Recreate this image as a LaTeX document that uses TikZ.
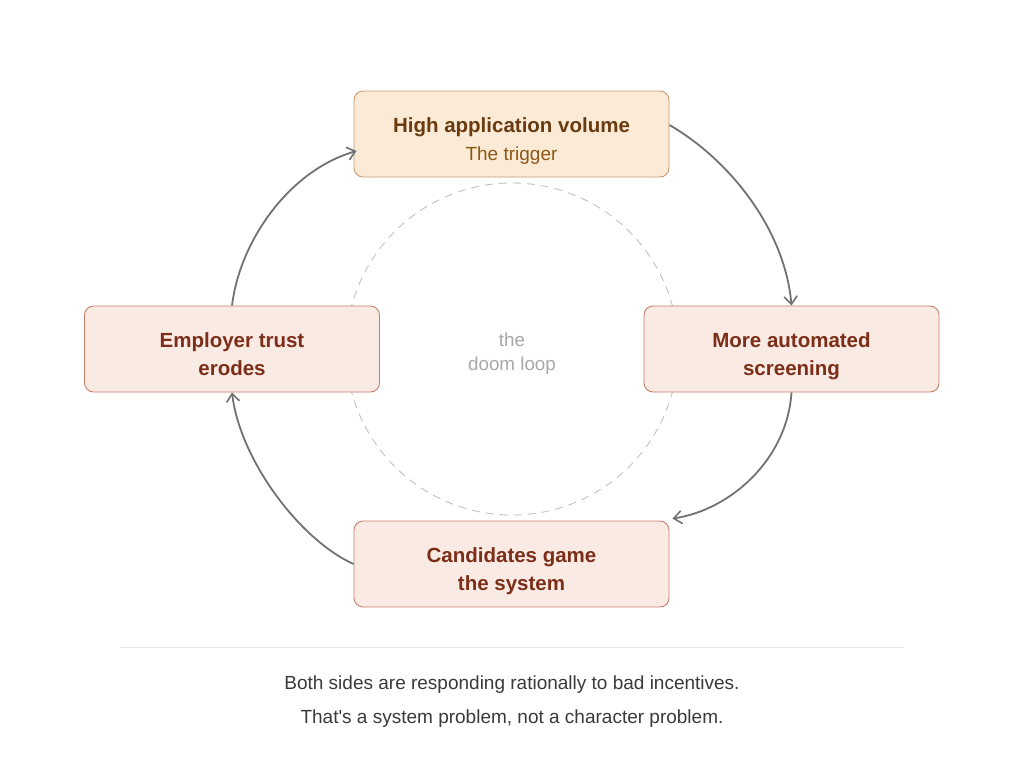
\documentclass[tikz,border=0pt]{standalone}
\usepackage{fontspec}
\setmainfont{Liberation Sans}
\newfontfamily\notefont{Liberation Sans}[Ligatures=ResetAll]
\usetikzlibrary{arrows.meta}
\definecolor{topfill}{HTML}{FBEBD6}
\definecolor{topdraw}{HTML}{C99A6E}
\definecolor{toptext}{HTML}{6A3A10}
\definecolor{topsub}{HTML}{8C5716}
\definecolor{boxfill}{HTML}{F9EAE4}
\definecolor{boxdraw}{HTML}{C98068}
\definecolor{boxtext}{HTML}{7C2E18}
\definecolor{arrowcol}{HTML}{727272}
\definecolor{loopcol}{HTML}{A8A8A8}
\definecolor{notecol}{HTML}{3A3A3A}
\newcommand\hiStrut{\rule{0pt}{29pt}}
\newcommand\loStrut{\rule[-5pt]{0pt}{5pt}}
\tikzset{
  x=1pt, y=1pt,
  stage/.style={draw=boxdraw, fill=boxfill, line width=0.9pt, rounded corners=9pt,
    minimum width=295pt, minimum height=86pt, align=center, text=boxtext,
    font=\fontsize{20.5}{28}\selectfont\bfseries},
  wide/.style={minimum width=315pt},
  trigger/.style={stage, wide, draw=topdraw, fill=topfill, text=toptext},
  flow/.style={draw=arrowcol, line width=1.8pt, -{Straight Barb[length=8pt,width=13pt,line width=1.6pt]}},
  note/.style={text=notecol, font=\notefont\fontsize{19}{22}\selectfont}
}
\begin{document}
\begin{tikzpicture}
\useasboundingbox (0,0) rectangle (1024,-768);
\fill[white] (0,0) rectangle (1024,-768);
% dashed loop circle
\draw[loopcol!70, line width=0.9pt, dash pattern=on 8pt off 6pt] (512,-349) circle (166);
\node[text=loopcol, align=center, font=\fontsize{18.8}{24}\selectfont] (loop) at (512,-354) {the\\doom loop};
% stages
\node[trigger] (top) at (511.5,-134) {\hiStrut High application volume\\{\fontsize{19}{20}\selectfont\mdseries\color{topsub}The trigger}\loStrut};
\node[stage] (right) at (791.5,-349) {\hiStrut More automated\\screening\loStrut};
\node[stage, wide] (bottom) at (511.5,-564) {\hiStrut Candidates game\\the system\loStrut};
\node[stage] (left) at (232,-349) {\hiStrut Employer trust\\erodes\loStrut};
% connectors
\draw[flow] ([yshift=9pt]top.east) .. controls (730,-160) and (785,-230) .. (right.north);
\draw[flow] (right.south) .. controls (787,-460) and (730,-510) .. ([xshift=3pt,yshift=2pt]bottom.north east);
\draw[flow] (bottom.west) .. controls (300,-540) and (240,-460) .. (left.south);
\draw[flow] (left.north) .. controls (240,-240) and (290,-170) .. ([xshift=3pt,yshift=-17pt]top.west);
% divider and notes
\draw[black!10, line width=0.8pt] (120,-647) -- (904,-647);
\node[note] (n1) at (512,-685) {Both sides are responding rationally to bad incentives.};
\node[note] (n2) at (512,-719) {That's a system problem, not a character problem.};
\end{tikzpicture}
\end{document}
